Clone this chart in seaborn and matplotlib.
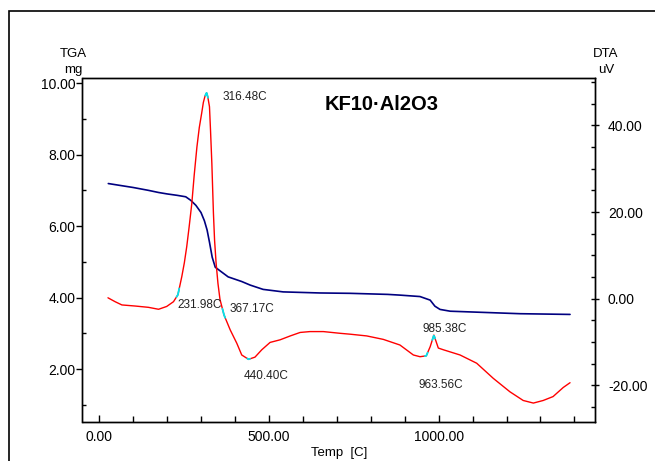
import numpy as np
import pandas as pd
import matplotlib
matplotlib.use("Agg")
import matplotlib.pyplot as plt
from matplotlib.ticker import MultipleLocator, FormatStrFormatter
from matplotlib.patches import Rectangle
import seaborn as sns

# ---------------- data ----------------
tga_temp = [27, 60, 100, 145, 175, 200, 230, 255, 270, 285, 300, 310, 318, 325,
            333, 342, 356, 380, 420, 445, 483, 542, 650, 739, 850, 886, 945,
            975, 989, 1004, 1034, 1122, 1240, 1387]
tga_mg = [7.19, 7.14, 7.08, 7.00, 6.94, 6.90, 6.86, 6.82, 6.72, 6.58, 6.38, 6.15, 5.89, 5.55,
          5.13, 4.85, 4.75, 4.58, 4.45, 4.35, 4.23, 4.16, 4.13, 4.12, 4.09, 4.07, 4.03,
          3.93, 3.76, 3.67, 3.62, 3.59, 3.55, 3.53]

dta_temp = [26, 47, 67, 106, 145, 175, 199, 219, 232, 243.5, 251, 258, 265, 273, 280, 288,
            295, 302, 307, 312, 316.5, 320, 325, 328, 332, 336.6, 340, 344.5, 350, 356,
            368, 386, 405.5, 420, 440, 459, 479, 503.5, 533, 563, 592, 621, 660.5, 710,
            739, 788, 837, 886, 925.5, 945, 963.5, 975, 986, 999, 1014, 1063, 1112, 1161,
            1210, 1249, 1279, 1308, 1337, 1367, 1387]
dta_uv = [0.2, -0.7, -1.45, -1.7, -2.0, -2.45, -1.8, -0.7, 0.9, 5.1, 8.3, 12.0, 16.5, 22.0,
          28.5, 35.0, 39.5, 42.8, 45.3, 46.8, 47.5, 46.6, 44.3, 39.0, 31.2, 19.8, 13.5, 8.2,
          3.5, -0.2, -3.8, -7.2, -10.3, -13.0, -14.0, -13.5, -11.8, -10.1, -9.5, -8.6, -7.8,
          -7.6, -7.6, -8.0, -8.2, -8.6, -9.4, -10.7, -13.0, -13.4, -13.2, -11.1, -8.4, -11.4,
          -11.8, -13.0, -14.9, -18.4, -21.5, -23.5, -24.1, -23.5, -22.6, -20.5, -19.4]

event_temps = [316.48, 231.98, 367.17, 440.40, 985.38, 963.56]
# label offsets in pixels (dx, dy)
event_offsets = [(16, -4), (0, -10), (6, 5), (-5, -17), (-11, 7), (-8, -29)]

title_text = "KF10\u00b7Al2O3"

# ---------------- style ----------------
sns.set_style("white")
plt.rcParams['font.family'] = ['Liberation Sans', 'DejaVu Sans']
plt.rcParams['text.color'] = 'black'
plt.rcParams['axes.labelcolor'] = 'black'
plt.rcParams['xtick.color'] = 'black'
plt.rcParams['ytick.color'] = 'black'

fig = plt.figure(figsize=(6.55, 4.61), dpi=100)
fig.patch.set_facecolor("white")

# outer frame
fig.patches.append(Rectangle((8.5 / 655, -0.1), 1.2, (461 - 11) / 461 + 0.1,
                             transform=fig.transFigure, fill=False,
                             edgecolor="black", linewidth=1.2))

ax = fig.add_axes([82.5 / 655, (461 - 421.7) / 461, (595.5 - 82.5) / 655, (421.7 - 77.7) / 461])
ax2 = ax.twinx()

df_tga = pd.DataFrame({"Temp": tga_temp, "TGA": tga_mg})
df_dta = pd.DataFrame({"Temp": dta_temp, "DTA": dta_uv})

sns.lineplot(data=df_tga, x="Temp", y="TGA", ax=ax, color="#000080", linewidth=1.2, sort=False)
sns.lineplot(data=df_dta, x="Temp", y="DTA", ax=ax2, color="#ff0000", linewidth=1.0, sort=False)

ax.set_xlim(-49, 1462)
ax.set_ylim(0.53, 10.15)
ax2.set_ylim(-28.4, 51.0)

ax.set_xlabel("Temp  [C]", fontsize=9.5, labelpad=2)
ax.set_ylabel("")
ax2.set_ylabel("")

ax.xaxis.set_major_locator(MultipleLocator(500))
ax.xaxis.set_minor_locator(MultipleLocator(100))
ax.yaxis.set_major_locator(MultipleLocator(2))
ax.yaxis.set_minor_locator(MultipleLocator(1))
ax2.yaxis.set_major_locator(MultipleLocator(20))
ax2.yaxis.set_minor_locator(MultipleLocator(5))

ax.xaxis.set_major_formatter(FormatStrFormatter("%.2f"))
ax.yaxis.set_major_formatter(FormatStrFormatter("%.2f"))
ax2.yaxis.set_major_formatter(FormatStrFormatter("%.2f"))

ax.tick_params(axis="x", which="major", direction="in", length=5, width=1, labelsize=10, pad=6, bottom=True)
ax.tick_params(axis="x", which="minor", direction="in", length=4, width=1, bottom=True)
ax.tick_params(axis="y", which="major", direction="out", length=4, width=1, labelsize=10, pad=1, left=True)
ax.tick_params(axis="y", which="minor", direction="in", length=3, width=1, left=True)
ax2.tick_params(axis="y", which="major", direction="inout", length=6, width=1, labelsize=10, pad=6, right=True)
ax2.tick_params(axis="y", which="minor", direction="in", length=3, width=1, right=True)

for a in (ax, ax2):
    for s in a.spines.values():
        s.set_color("black")
        s.set_linewidth(1.0)
        s.set_visible(True)

# axis titles
fig.text(73 / 655, 1 - 54 / 461, "TGA", ha="center", va="center", fontsize=9.5)
fig.text(73 / 655, 1 - 70 / 461, "mg", ha="center", va="center", fontsize=9.5)
fig.text(606 / 655, 1 - 54 / 461, "DTA", ha="center", va="center", fontsize=9.5)
fig.text(606 / 655, 1 - 70 / 461, "uV", ha="center", va="center", fontsize=9.5)

# title
fig.text(382 / 655, 1 - 105 / 461, title_text, ha="center", va="center",
         fontsize=14.5, fontweight="bold", color="black")

# event markers and labels
for t, (dx, dy) in zip(event_temps, event_offsets):
    yv = np.interp(t, dta_temp, dta_uv)
    seg_t = np.linspace(t - 4, t + 4, 5)
    ax2.plot(seg_t, np.interp(seg_t, dta_temp, dta_uv), color="#00e5ee", linewidth=1.3)
    ax2.annotate(f"{t:.2f}C", xy=(t, yv), xytext=(dx, dy), textcoords="offset pixels",
                 ha="left", va="center", fontsize=8.5, color="#222222")

fig.savefig("out.png", dpi=100, facecolor="white")
